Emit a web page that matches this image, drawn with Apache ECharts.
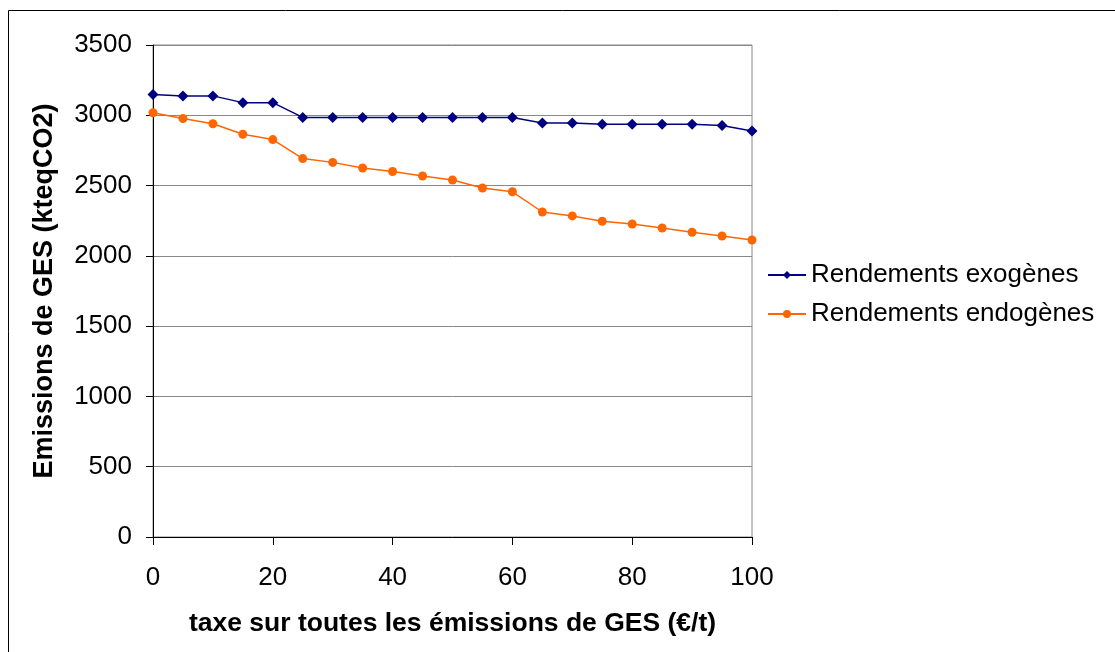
<!DOCTYPE html>
<html>
<head>
<meta charset="utf-8">
<script src="https://cdn.jsdelivr.net/npm/echarts@6/dist/echarts.min.js"></script>
<style>html,body{margin:0;padding:0;background:#fff}#c{width:1115px;height:652px}</style>
</head>
<body>
<div id="c"></div>
<script>
const taxes = [0,5,10,15,20,25,30,35,40,45,50,55,60,65,70,75,80,85,90,95,100];
const exogenes = [3148,3138,3138,3090,3090,2985,2985,2985,2985,2985,2985,2985,2985,2945,2945,2937,2937,2937,2937,2927,2888];
const endogenes = [3018,2977,2940,2865,2827,2692,2665,2625,2600,2568,2540,2483,2456,2312,2284,2246,2227,2198,2168,2141,2113];
const seriesNames = ['Rendements exogènes','Rendements endogènes'];
const xTitle = 'taxe sur toutes les émissions de GES (€/t)';
const yTitle = 'Emissions de GES (kteqCO2)';

const FONT = '"Liberation Sans", Arial, sans-serif';
const chart = echarts.init(document.getElementById('c'));
const pair = (xs, ys) => xs.map((x, i) => [x, ys[i]]);
chart.setOption({
  animation: false,
  textStyle: {fontFamily: FONT},
  graphic: [{type:'rect', shape:{x:8.5,y:10.5,width:1300,height:1000}, style:{fill:'none',stroke:'#000',lineWidth:1}, z:-10}],
  grid: {left:153, right:363, top:45, bottom:115, show:true, borderColor:'#888', borderWidth:1, backgroundColor:'transparent'},
  legend: {
    orient:'vertical', left:762, top:257, itemGap:13, itemWidth:38, itemHeight:10,
    textStyle:{fontFamily:FONT, fontSize:26, color:'#000'},
    data: seriesNames
  },
  xAxis: {
    type:'value', min:0, max:100, interval:20,
    name:xTitle, nameLocation:'middle', nameGap:73,
    nameTextStyle:{fontFamily:FONT, fontSize:26.5, fontWeight:'bold', color:'#000'},
    axisLine:{lineStyle:{color:'#000', width:1}},
    axisTick:{show:true, length:8, lineStyle:{color:'#000'}},
    axisLabel:{fontFamily:FONT, fontSize:26, color:'#000', margin:28},
    splitLine:{show:false}
  },
  yAxis: {
    type:'value', min:0, max:3500, interval:500,
    name:yTitle, nameLocation:'middle', nameGap:95,
    nameTextStyle:{fontFamily:FONT, fontSize:27, fontWeight:'bold', color:'#000'},
    axisLine:{show:true, lineStyle:{color:'#000', width:1}},
    axisTick:{show:true, length:7, lineStyle:{color:'#000'}},
    axisLabel:{fontFamily:FONT, fontSize:26, color:'#000', margin:21, formatter: v => String(v)},
    splitLine:{show:true, lineStyle:{color:'#888', width:1}}
  },
  series: [
    {name:seriesNames[0], type:'line', data:pair(taxes, exogenes), symbol:'diamond', symbolSize:11,
     lineStyle:{color:'#000080', width:1.5}, itemStyle:{color:'#000080'}, z:3},
    {name:seriesNames[1], type:'line', data:pair(taxes, endogenes), symbol:'circle', symbolSize:9,
     lineStyle:{color:'#FF6600', width:1.5}, itemStyle:{color:'#FF6600'}, z:2}
  ]
});
</script>
</body>
</html>
